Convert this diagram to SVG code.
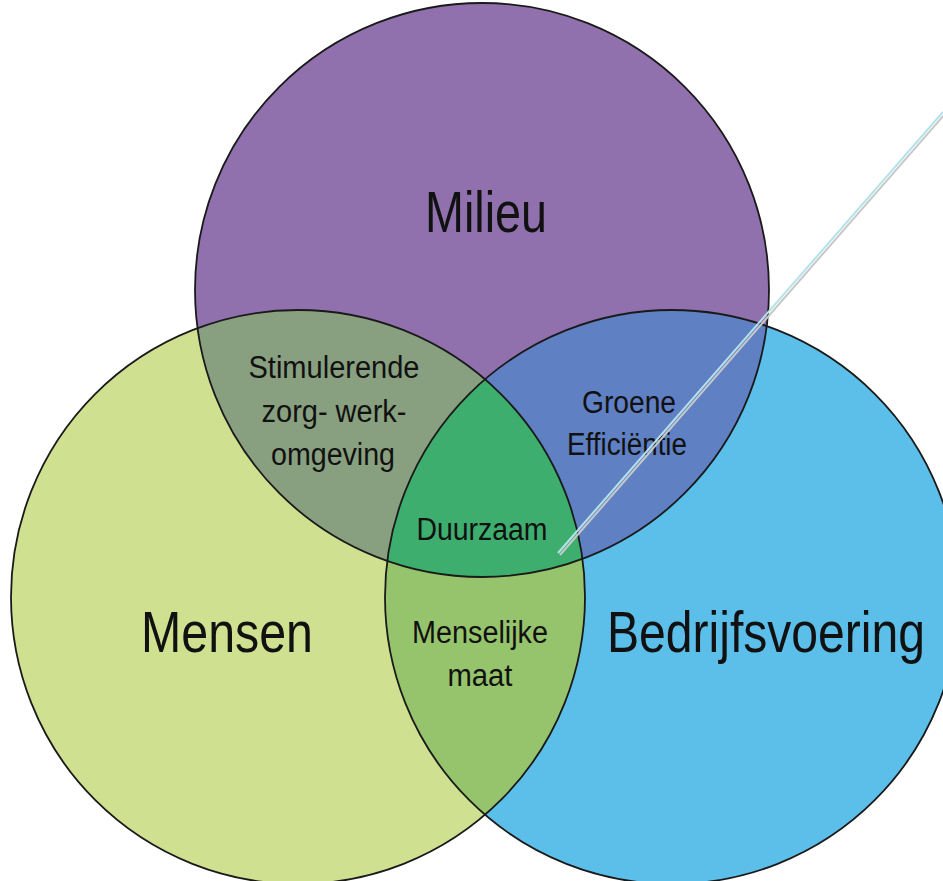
<svg xmlns="http://www.w3.org/2000/svg" width="943" height="881" viewBox="0 0 943 881">
<style>
.big{font-family:"Liberation Sans",Arial,sans-serif;font-size:57px;fill:#111;text-anchor:middle}
.sm{font-family:"Liberation Sans",Arial,sans-serif;font-size:31px;fill:#111;text-anchor:middle}
.edge{fill:none;stroke:#1a1a1a;stroke-width:1.8}
</style>
<defs>
<clipPath id="cTop"><circle cx="482" cy="290" r="287"/></clipPath>
<clipPath id="cLeft"><circle cx="298" cy="597" r="287"/></clipPath>
<clipPath id="cRight"><circle cx="672" cy="597" r="287"/></clipPath>
</defs>
<rect width="943" height="881" fill="#ffffff"/>
<g id="milieu">
<circle cx="482" cy="290" r="287" fill="#9071AE"/>
</g>
<g id="mensen">
<circle cx="298" cy="597" r="287" fill="#CFE090"/>
</g>
<g id="bedrijfsvoering">
<circle cx="672" cy="597" r="287" fill="#5CBFEA"/>
</g>
<g id="stimulerende" clip-path="url(#cTop)">
<circle cx="298" cy="597" r="287" fill="#88A07F"/>
</g>
<g id="groene" clip-path="url(#cTop)">
<circle cx="672" cy="597" r="287" fill="#5F80C2"/>
</g>
<g id="menselijke" clip-path="url(#cLeft)">
<circle cx="672" cy="597" r="287" fill="#95C46C"/>
</g>
<g id="duurzaam" clip-path="url(#cTop)">
<g clip-path="url(#cLeft)">
<circle cx="672" cy="597" r="287" fill="#3DAE6E"/>
</g>
</g>
<g id="outlines">
<circle class="edge" cx="482" cy="290" r="287"/>
<circle class="edge" cx="298" cy="597" r="287"/>
<circle class="edge" cx="672" cy="597" r="287"/>
</g>
<g id="labels">
<text class="big" x="486" y="232" textLength="122" lengthAdjust="spacingAndGlyphs">Milieu</text>
<text class="big" x="227" y="652" textLength="172" lengthAdjust="spacingAndGlyphs">Mensen</text>
<text class="big" x="766" y="652" textLength="318" lengthAdjust="spacingAndGlyphs">Bedrijfsvoering</text>
<text class="sm" x="334" y="378" textLength="171" lengthAdjust="spacingAndGlyphs">Stimulerende</text>
<text class="sm" x="334" y="422" textLength="145" lengthAdjust="spacingAndGlyphs">zorg- werk-</text>
<text class="sm" x="333" y="465" textLength="124" lengthAdjust="spacingAndGlyphs">omgeving</text>
<text class="sm" x="629" y="413" textLength="94" lengthAdjust="spacingAndGlyphs">Groene</text>
<text class="sm" x="627" y="455" textLength="120" lengthAdjust="spacingAndGlyphs">Efficiëntie</text>
<text class="sm" x="482" y="540" textLength="131" lengthAdjust="spacingAndGlyphs">Duurzaam</text>
<text class="sm" x="480" y="643" textLength="136" lengthAdjust="spacingAndGlyphs">Menselijke</text>
<text class="sm" x="480" y="686" textLength="65" lengthAdjust="spacingAndGlyphs">maat</text>
</g>
<g id="connectors">
<line x1="945" y1="114" x2="560" y2="555" stroke="#c8c8c8" stroke-width="2"/>
<line x1="943" y1="112" x2="558" y2="553" stroke="#b4e2ea" stroke-width="2"/>
</g>
</svg>
